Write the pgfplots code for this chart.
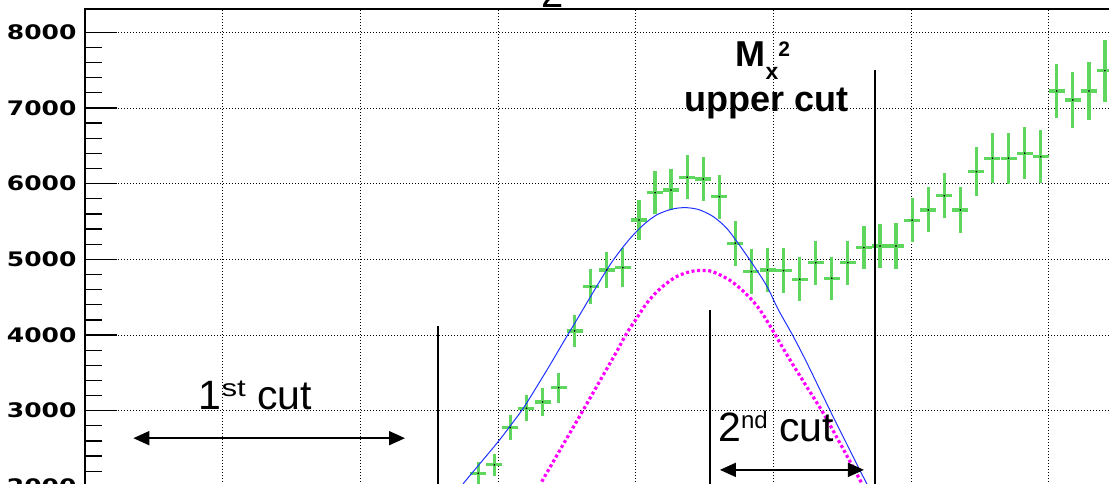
\documentclass[border=0pt]{standalone}
\usepackage{pgfplots}
\pgfplotsset{compat=1.18}
\usepackage{pgfplotstable}
\usepackage{graphicx}
\usepackage{fontspec}
\setmainfont{Liberation Sans}
\newfontfamily\tickfont{DejaVu Sans}
\usetikzlibrary{arrows.meta}
\definecolor{dgreen}{RGB}{95,215,95}
\definecolor{dmag}{RGB}{255,0,255}
\definecolor{dblue}{RGB}{30,50,255}

\pgfplotstableread{
x y ex ey
2.856 2174 0.0583 150
2.973 2284 0.0583 149
3.089 2777 0.0583 169
3.206 3033 0.0583 174
3.323 3116 0.0583 188
3.440 3305 0.0583 198
3.556 4054 0.0583 215
3.673 4639 0.0583 227
3.790 4860 0.0583 235
3.906 4890 0.0583 254
4.023 5520 0.0583 260
4.140 5881 0.0583 281
4.256 5917 0.0583 271
4.373 6085 0.0583 288
4.490 6062 0.0583 288
4.607 5828 0.0583 291
4.723 5213 0.0583 297
4.840 4838 0.0583 297
4.957 4860 0.0583 293
5.073 4851 0.0583 293
5.190 4737 0.0583 291
5.307 4956 0.0583 291
5.423 4750 0.0583 287
5.540 4956 0.0583 291
5.657 5155 0.0583 288
5.774 5177 0.0583 288
5.890 5177 0.0583 300
6.007 5517 0.0583 293
6.124 5653 0.0583 297
6.240 5841 0.0583 295
6.357 5653 0.0583 304
6.474 6159 0.0583 324
6.590 6336 0.0583 330
6.707 6336 0.0583 340
6.824 6402 0.0583 341
6.941 6357 0.0583 350
7.057 7225 0.0583 359
7.174 7106 0.0583 374
7.291 7225 0.0583 380
7.407 7493 0.0583 410
}\datapts

\pgfplotstableread{
x y
2.745 2033
2.868 2301
3.001 2592
3.086 2793
3.183 3033
3.282 3321
3.377 3605
3.471 3896
3.573 4206
3.655 4457
3.718 4649
3.789 4860
3.842 5005
3.905 5157
3.965 5289
4.031 5415
4.089 5507
4.152 5587
4.219 5639
4.285 5672
4.343 5683
4.394 5679
4.466 5652
4.563 5564
4.660 5411
4.757 5177
4.853 4926
4.951 4649
5.036 4332
5.142 3988
5.241 3638
5.338 3275
5.434 2918
5.532 2562
5.628 2211
5.686 2006
}\fitblue

\pgfplotstableread{
x y
3.317 2063
3.450 2482
3.619 3011
3.764 3473
3.864 3790
3.934 4024
4.006 4219
4.079 4420
4.152 4569
4.224 4684
4.306 4781
4.394 4837
4.466 4853
4.539 4847
4.612 4794
4.685 4721
4.757 4618
4.830 4490
4.902 4332
4.975 4120
5.047 3896
5.120 3671
5.241 3318
5.362 2967
5.483 2571
5.628 2086
5.650 2007
}\fitmag

\begin{document}
\begin{tikzpicture}[x=1pt,y=1pt]
\useasboundingbox (0,0) rectangle (1109,484);
\clip (0,0) rectangle (1109,484);
\begin{axis}[
  at={(85pt,-153.75pt)}, anchor=south west,
  scale only axis, width=1087.8pt, height=628.75pt,
  xmin=0, xmax=7.9, ymin=0, ymax=8308,
  axis line style={line width=1.6pt},
  xtick={1,2,...,7}, xticklabels={},
  xtick pos=bottom, ytick pos=left,
  ytick={0,1000,...,8000},
  minor y tick num=4,
  tick align=inside,
  major tick length=32pt, minor tick length=17pt,
  tick style={black, line width=1.3pt},
  grid=major,
  major grid style={black, line width=0.9pt, dash pattern=on 0.9pt off 2.1pt},
  yticklabel={\scalebox{1.25}[1]{\pgfmathprintnumber{\tick}}},
  yticklabel style={font=\tickfont\bfseries\fontsize{20}{20}\selectfont, inner sep=0pt, xshift=-8.3pt},
  /pgf/number format/1000 sep={},
  /pgf/number format/assume math mode=true,
]
\addplot[only marks, mark=*, mark size=0.6pt, black,
  error bars/.cd, x dir=both, x explicit, y dir=both, y explicit,
  error mark=none, error bar style={line width=3.2pt, dgreen}]
  table[x=x, y=y, x error=ex, y error=ey]{\datapts};
\addplot[dblue, line width=1pt, smooth, tension=0.5, no marks] table[x=x,y=y]{\fitblue};
\addplot[dmag, line width=3.2pt, dash pattern=on 3pt off 2.6pt, smooth, tension=0.5, no marks] table[x=x,y=y]{\fitmag};

\draw[black, line width=1.8pt] (axis cs:2.561,0) -- (axis cs:2.561,4120);
\draw[black, line width=1.8pt] (axis cs:4.539,0) -- (axis cs:4.539,4332);
\draw[black, line width=2pt] (axis cs:5.737,0) -- (axis cs:5.737,7502);

\draw[{Triangle[length=16pt,width=14pt]}-{Triangle[length=16pt,width=14pt]}, line width=1.8pt]
  (axis cs:0.351,2637) -- (axis cs:2.324,2637);
\draw[{Triangle[length=16pt,width=14pt]}-{Triangle[length=16pt,width=14pt]}, line width=1.8pt]
  (axis cs:4.611,2218) -- (axis cs:5.657,2218);
\end{axis}

\node[anchor=base west, inner sep=0pt, font=\fontsize{41}{41}\selectfont] at (198.6,74)
  {1\raisebox{13.3pt}{\fontsize{24}{24}\selectfont\scalebox{1.3}[1]{st}} cut};
\node[anchor=base west, inner sep=0pt, font=\fontsize{41}{41}\selectfont] at (718,42.3)
  {2\raisebox{13.4pt}{\fontsize{24}{24}\selectfont nd} cut};
\node[anchor=base west, inner sep=0pt, font=\bfseries\fontsize{36}{36}\selectfont] at (735.5,417.3)
  {M\raisebox{-13.3pt}{\fontsize{23}{23}\selectfont x}\raisebox{9.7pt}{\fontsize{21}{21}\selectfont 2}};
\node[anchor=base, inner sep=0pt, font=\bfseries\fontsize{36}{36}\selectfont] at (766.5,372.3)
  {upper cut};
\node[anchor=base, inner sep=0pt, font=\fontsize{40}{40}\selectfont] at (552.5,476.7) {2};
\end{tikzpicture}
\end{document}
